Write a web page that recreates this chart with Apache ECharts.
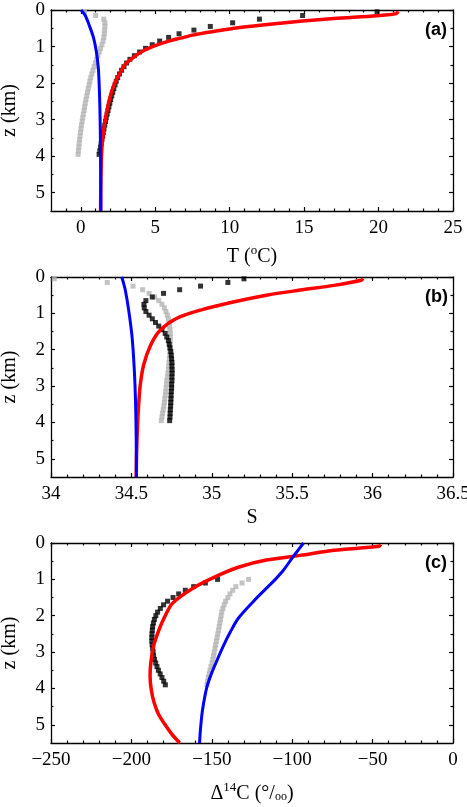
<!DOCTYPE html>
<html>
<head>
<meta charset="utf-8">
<script src="https://cdn.jsdelivr.net/npm/echarts@6/dist/echarts.min.js"></script>
<style>
html, body { margin: 0; padding: 0; background: #fff; }
#main { width: 467px; height: 807px; }
</style>
</head>
<body>
<div id="main"></div>
<script>
// observation depths (km)
var zObs = [0.05, 0.15, 0.25, 0.35, 0.45, 0.55, 0.65, 0.75, 0.85, 0.95,
    1.05, 1.15, 1.25, 1.35, 1.45, 1.55, 1.65, 1.75, 1.85, 1.95,
    2.05, 2.15, 2.25, 2.35, 2.45, 2.55, 2.65, 2.75, 2.85, 2.95,
    3.05, 3.15, 3.25, 3.35, 3.45, 3.55, 3.65, 3.75, 3.85, 3.95];
var zObsC = [1.0, 1.1, 1.2, 1.3, 1.4, 1.5, 1.6, 1.7, 1.8, 1.9,
    2.0, 2.1, 2.2, 2.3, 2.4, 2.5, 2.6, 2.7, 2.8, 2.9,
    3.0, 3.1, 3.2, 3.3, 3.4, 3.5, 3.6, 3.7, 3.8, 3.9];

// (a) temperature
var tBlack = [19.9, 14.9, 12.0, 10.2, 8.7, 7.6, 6.6, 5.9, 5.3, 4.8,
    4.35, 3.95, 3.6, 3.3, 3.08, 2.9, 2.74, 2.6, 2.48, 2.38,
    2.3, 2.22, 2.15, 2.08, 2.01, 1.95, 1.89, 1.83, 1.77, 1.71,
    1.66, 1.61, 1.56, 1.51, 1.47, 1.42, 1.37, 1.33, 1.28, 1.23];
var tGray = [0.25, 1.0, 1.55, 1.62, 1.62, 1.6, 1.58, 1.55, 1.5, 1.42,
    1.33, 1.24, 1.15, 1.06, 0.98, 0.9, 0.82, 0.74, 0.67, 0.61,
    0.56, 0.5, 0.45, 0.4, 0.35, 0.3, 0.26, 0.22, 0.17, 0.13,
    0.09, 0.05, 0.01, -0.02, -0.05, -0.08, -0.11, -0.13, -0.16, -0.18];
var tRed = [21.3, 21.2, 19.9, 17.0, 14.9, 12.2, 10.3, 8.7, 7.6, 6.7, 5.9, 4.9,
    4.0, 3.3, 2.95, 2.68, 2.28, 1.95, 1.65, 1.47, 1.39, 1.36, 1.34, 1.33];
var tRedZ = [0.04, 0.1, 0.155, 0.23, 0.3, 0.41, 0.5, 0.6, 0.68, 0.77, 0.85, 0.99,
    1.16, 1.37, 1.5, 1.69, 2.0, 2.4, 3.0, 3.5, 4.0, 4.5, 5.0, 5.5];
var tBlue = [0.02, 0.3, 0.55, 0.85, 1.05, 1.18, 1.25, 1.3, 1.33, 1.35];
var tBlueZ = [0, 0.15, 0.4, 0.75, 1.15, 1.6, 2.2, 3.0, 4.0, 5.5];

// (b) salinity
var sBlack = [35.20, 35.10, 34.93, 34.80, 34.70, 34.63, 34.59, 34.578, 34.58, 34.59,
    34.61, 34.63, 34.65, 34.67, 34.69, 34.71, 34.72, 34.73, 34.735, 34.74,
    34.745, 34.748, 34.75, 34.752, 34.752, 34.753, 34.753, 34.752, 34.752, 34.75,
    34.75, 34.748, 34.747, 34.746, 34.745, 34.744, 34.742, 34.741, 34.74, 34.738];
var sGray = [34.02, 34.35, 34.51, 34.57, 34.61, 34.645, 34.67, 34.69, 34.705, 34.715,
    34.723, 34.73, 34.735, 34.738, 34.74, 34.742, 34.742, 34.742, 34.741, 34.74,
    34.739, 34.738, 34.736, 34.734, 34.732, 34.73, 34.727, 34.724, 34.72, 34.718,
    34.716, 34.713, 34.711, 34.708, 34.705, 34.702, 34.698, 34.694, 34.69, 34.686];
var sRed = [35.94, 35.93, 35.76, 35.55, 35.34, 35.14, 34.93, 34.78, 34.68, 34.62,
    34.576, 34.555, 34.545, 34.537, 34.532, 34.53];
var sRedZ = [0.04, 0.09, 0.23, 0.36, 0.5, 0.68, 0.91, 1.14, 1.46, 1.87,
    2.42, 2.97, 3.52, 4.2, 4.9, 5.5];
var sBlue = [34.44, 34.45, 34.462, 34.483, 34.504, 34.518, 34.526, 34.53, 34.531];
var sBlueZ = [0, 0.15, 0.36, 0.91, 1.64, 2.55, 3.47, 4.5, 5.5];

// (c) radiocarbon
var cBlack = [-146.4, -154.0, -161.3, -166.5, -170.6, -174.1, -177.5, -180.0, -182.0, -183.7,
    -184.8, -185.7, -186.3, -186.8, -187.0, -187.2, -187.3, -187.3, -187.1, -186.8,
    -186.5, -186.2, -185.6, -184.9, -184.1, -183.2, -182.1, -181.0, -179.9, -178.9];
var cGray = [-127.1, -131.2, -135.0, -137.0, -138.7, -140.0, -141.4, -142.3, -143.1, -143.8,
    -144.2, -144.6, -145.0, -145.4, -145.8, -146.3, -146.7, -147.1, -147.6, -148.0,
    -148.5, -148.9, -149.4, -149.9, -150.5, -151.1, -151.7, -152.2, -152.6, -153.0];
var cRed = [-45, -46, -74, -95, -116, -133, -148, -162, -174.5, -179.5,
    -182.5, -186, -187.8, -188.4, -187.6, -185.8, -183.2, -179, -175, -170];
var cRedZ = [0.04, 0.09, 0.2, 0.34, 0.47, 0.66, 0.93, 1.25, 1.66, 2.05,
    2.35, 2.8, 3.25, 3.65, 4.05, 4.4, 4.7, 5.0, 5.25, 5.5];
var cBlue = [-93, -95.5, -99.5, -105.5, -110.5, -115, -124, -133.5, -138.5, -142.5,
    -146.5, -149.4, -153, -155.8, -157, -157.6];
var cBlueZ = [0, 0.15, 0.38, 0.75, 1.0, 1.2, 1.6, 2.07, 2.45, 2.8,
    3.2, 3.5, 3.95, 4.6, 5.1, 5.5];

// axes
var xRanges = [[-2, 25], [34, 36.5], [-250, 0]];
var xTicks = [[0, 5, 10, 15, 20, 25], [34, 34.5, 35, 35.5, 36, 36.5], [-250, -200, -150, -100, -50, 0]];
var zTicks = [0, 1, 2, 3, 4, 5];
var panelLabels = ['(a)', '(b)', '(c)'];

var myChart = echarts.init(document.getElementById('main'), null, { width: 467, height: 807 });

var serif = '"Liberation Serif", "Times New Roman", serif';
var tickStyle = { color: '#000', width: 1.2 };
var grids = [
    { left: 51, top: 10, width: 402, height: 201, outerBoundsMode: 'none' },
    { left: 51, top: 277, width: 402, height: 200, outerBoundsMode: 'none' },
    { left: 51, top: 543, width: 402, height: 200, outerBoundsMode: 'none' }
];
var xNames = ['T ({s|o}C)', 'S', '\u0394{s|14}C (\u00b0/{o|oo})'];
var xNameGaps = [33, 31, 38];

function pairs(xs, zs) {
    return xs.map(function (v, i) { return [v, zs[i]]; });
}
function fmt(v) {
    return v < 0 ? '\u2212' + (-v) : String(v);
}

var xAxes = [];
var yAxes = [];
for (var i = 0; i < 3; i++) {
    ['bottom', 'top'].forEach(function (pos) {
        var main = pos === 'bottom';
        xAxes.push({
            gridIndex: i,
            type: 'value',
            position: pos,
            min: xRanges[i][0],
            max: xRanges[i][1],
            name: main ? xNames[i] : '',
            nameLocation: 'middle',
            nameGap: xNameGaps[i],
            nameTextStyle: {
                fontFamily: serif, fontSize: 20, color: '#000',
                rich: {
                    s: { fontFamily: serif, fontSize: 13, verticalAlign: 'top', padding: [0, 0, 12, 0] },
                    o: { fontFamily: serif, fontSize: 12, verticalAlign: 'bottom', padding: [0, 0, 3, 0] }
                }
            },
            axisLine: { show: true, onZero: false, lineStyle: { color: '#000', width: 1.3 } },
            axisTick: { show: true, inside: true, length: 4, customValues: xTicks[i], lineStyle: tickStyle },
            minorTick: { show: true, splitNumber: 5, length: 2.5, lineStyle: tickStyle },
            axisLabel: {
                show: main, customValues: xTicks[i], formatter: fmt, margin: 8,
                fontFamily: serif, fontSize: 19, color: '#000'
            },
            splitLine: { show: false }
        });
    });
    ['left', 'right'].forEach(function (pos) {
        var main = pos === 'left';
        yAxes.push({
            gridIndex: i,
            type: 'value',
            position: pos,
            inverse: true,
            min: 0,
            max: 5.5,
            name: main ? 'z (km)' : '',
            nameLocation: 'middle',
            nameGap: 31,
            nameRotate: 90,
            nameTextStyle: { fontFamily: serif, fontSize: 20, color: '#000' },
            axisLine: { show: true, onZero: false, lineStyle: { color: '#000', width: 1.3 } },
            axisTick: { show: true, inside: true, length: 4, customValues: zTicks, lineStyle: tickStyle },
            minorTick: { show: true, splitNumber: 2, length: 2.5, lineStyle: tickStyle },
            axisLabel: {
                show: main, customValues: zTicks, margin: 6,
                fontFamily: serif, fontSize: 19, color: '#000'
            },
            splitLine: { show: false }
        });
    });
}

function modelLine(i, data, color, width) {
    return {
        type: 'line', xAxisIndex: 2 * i, yAxisIndex: 2 * i, data: data,
        showSymbol: false, smooth: 0.3, animation: false,
        lineStyle: { color: color, width: width }
    };
}
function obsDots(i, data, color) {
    return {
        type: 'scatter', xAxisIndex: 2 * i, yAxisIndex: 2 * i, data: data,
        symbol: 'rect', symbolSize: 5, animation: false,
        itemStyle: { color: color }
    };
}

var option = {
    backgroundColor: '#fff',
    animation: false,
    title: panelLabels.map(function (t, i) {
        return {
            text: t, left: 425, top: grids[i].top + 11, padding: 0,
            textStyle: { fontFamily: 'Liberation Sans', fontWeight: 'bold', fontSize: 18, color: '#000' }
        };
    }),
    grid: grids,
    xAxis: xAxes,
    yAxis: yAxes,
    series: [
        modelLine(0, pairs(tRed, tRedZ), '#ff0000', 3.5),
        modelLine(0, pairs(tBlue, tBlueZ), '#0000ff', 3),
        obsDots(0, pairs(tGray, zObs), '#b4b4b4'),
        obsDots(0, pairs(tBlack, zObs), '#000'),
        modelLine(1, pairs(sRed, sRedZ), '#ff0000', 3.5),
        modelLine(1, pairs(sBlue, sBlueZ), '#0000ff', 3),
        obsDots(1, pairs(sGray, zObs), '#b4b4b4'),
        obsDots(1, pairs(sBlack, zObs), '#000'),
        modelLine(2, pairs(cRed, cRedZ), '#ff0000', 3.5),
        modelLine(2, pairs(cBlue, cBlueZ), '#0000ff', 3),
        obsDots(2, pairs(cGray, zObsC), '#b4b4b4'),
        obsDots(2, pairs(cBlack, zObsC), '#000')
    ]
};
option && myChart.setOption(option);
</script>
</body>
</html>
